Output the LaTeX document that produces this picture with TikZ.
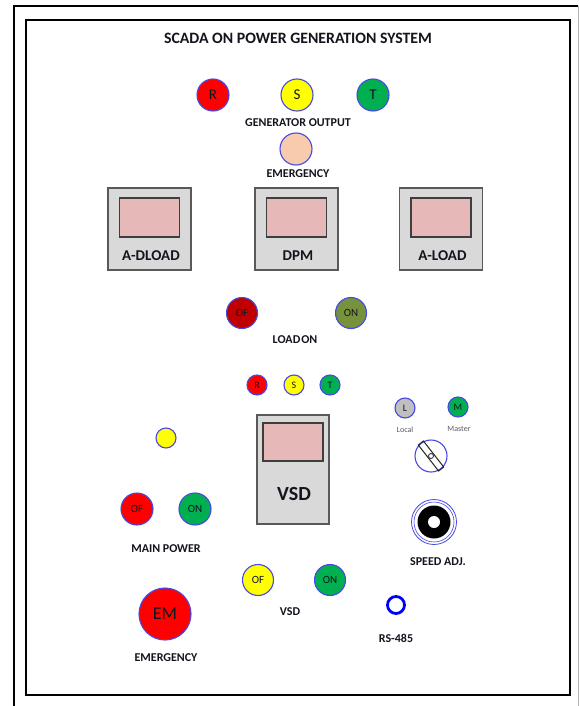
\documentclass[tikz,border=0pt]{standalone}
\usepackage{fontspec}
\setmainfont{Carlito}
\definecolor{ring}{RGB}{72,72,230}
\definecolor{cred}{RGB}{255,0,0}
\definecolor{cyel}{RGB}{255,255,0}
\definecolor{cgrn}{RGB}{0,176,80}
\definecolor{cpeach}{RGB}{248,203,173}
\definecolor{cdred}{RGB}{192,0,0}
\definecolor{colive}{RGB}{118,146,60}
\definecolor{cgray}{RGB}{191,191,191}
\definecolor{boxfill}{RGB}{217,217,217}
\definecolor{boxline}{RGB}{89,89,89}
\definecolor{scr}{RGB}{230,184,183}
\definecolor{txt}{RGB}{20,20,30}
\tikzset{
  lamp/.style={circle, draw=ring, line width=1.1pt, inner sep=0pt, minimum size=#1, text=txt},
  lbl/.style={font=\bfseries\fontsize{12}{12}\selectfont, text=txt, inner sep=0pt},
  meter/.style={draw=boxline, line width=1.3pt, fill=boxfill},
  screen/.style={draw=boxline!70!black, line width=1.2pt, fill=scr},
  boxlbl/.style={font=\bfseries\fontsize{15}{15}\selectfont, text=txt, inner sep=0pt},
  tiny/.style={font=\fontsize{8}{8}\selectfont, text=txt!70, inner sep=0pt}
}
\begin{document}
\begin{tikzpicture}[x=1pt,y=-1pt]
\useasboundingbox (0,0) rectangle (580,706);
\fill[white] (0,0) rectangle (580,706);
% outer frame
\draw[black, line width=1.8pt] (14,712) -- (14,6) -- (578,6);
\draw[gray!60, line width=0.8pt] (578,6) -- (578,712);
% inner frame
\draw[black, line width=1.8pt] (26,20) rectangle (570,695);
\node[font=\bfseries\fontsize{15.8}{15.8}\selectfont, text=txt] (title) at (298,38) {SCADA ON POWER GENERATION SYSTEM};
% generator output
\node[lamp=32, fill=cred, font=\fontsize{15}{15}\selectfont] (gR) at (213,95) {R};
\node[lamp=32, fill=cyel, font=\fontsize{15}{15}\selectfont] (gS) at (297,95) {S};
\node[lamp=32, fill=cgrn, font=\fontsize{15}{15}\selectfont] (gT) at (373,95) {T};
\node[lbl] (genout) at (298,123) {GENERATOR OUTPUT};
\node[lamp=32, fill=cpeach] (emg) at (296,149) {};
\node[lbl] (emglbl) at (298,174) {EMERGENCY};
% meters
\foreach \cx/\name/\txt in {149.5/adl/A-DLOAD, 296.5/dpm/DPM, 441/alo/A-LOAD}{
  \draw[meter] (\cx-41.5,188) rectangle (\cx+41.5,270);
  \draw[screen] (\cx-30,198) rectangle (\cx+30,237);
  \node[boxlbl] (\name) at (\cx+1.5,256) {\txt};
}
% load on
\node[lamp=31, fill=cdred, font=\fontsize{11}{11}\selectfont] (lof) at (242,313) {OF};
\node[lamp=31, fill=colive, font=\fontsize{11}{11}\selectfont] (lon) at (351,313) {ON};
\node[lbl] (loadon) at (295,340) {LOAD\kern1pt ON};
% small RST
\node[lamp=20, fill=cred, font=\fontsize{10}{10}\selectfont] (sR) at (257,385) {R};
\node[lamp=20, fill=cyel, font=\fontsize{10}{10}\selectfont] (sS) at (294,385) {S};
\node[lamp=20, fill=cgrn, font=\fontsize{10}{10}\selectfont] (sT) at (330,385) {T};
% VSD box
\draw[meter] (257,415) rectangle (329,524);
\draw[screen] (263,423) rectangle (323,461);
\node[font=\bfseries\fontsize{20}{20}\selectfont, text=txt, inner sep=0pt] (vsdbox) at (294,494) {VSD};
% main power
\node[lamp=20, fill=cyel] (mpind) at (166,438) {};
\node[lamp=32, fill=cred, font=\fontsize{11}{11}\selectfont] (mof) at (137,509) {OF};
\node[lamp=32, fill=cgrn, font=\fontsize{11}{11}\selectfont] (mon) at (195,509) {ON};
\node[lbl] (mainpow) at (166,549) {MAIN POWER};
% local / master
\node[lamp=20, fill=cgray, font=\fontsize{10}{10}\selectfont] (lL) at (405,408) {L};
\node[lamp=20, fill=cgrn, font=\fontsize{10}{10}\selectfont] (lM) at (458,407) {M};
\node[tiny] (local) at (405,430) {Local};
\node[tiny] (master) at (459,429) {Master};
% selector switch
\node[lamp=32, fill=white] (sel) at (431,456) {};
\node[draw=boxline!40!black, line width=1pt, rectangle, minimum width=33pt, minimum height=6.5pt, inner sep=0pt, rotate=-52] (selbar) at (sel.center) {};
\node[circle, draw=boxline!40!black, line width=0.8pt, fill=white, minimum size=5pt, inner sep=0pt] (selpin) at (sel.center) {};
% speed adj
\node[circle, draw=ring, line width=0.8pt, minimum size=45pt, inner sep=0pt] (spd) at (434,522) {};
\node[circle, draw=ring, line width=0.6pt, minimum size=40pt, inner sep=0pt] (spdin) at (spd.center) {};
\node[circle, fill=black, minimum size=33pt, inner sep=0pt] (knob) at (spd.center) {};
\node[circle, fill=white, minimum size=12pt, inner sep=0pt] (knobhole) at (spd.center) {};
\node[lbl] (spdlbl) at (438,562) {SPEED ADJ.};
% VSD buttons
\node[lamp=31, fill=cyel, font=\fontsize{11}{11}\selectfont] (vof) at (258,580) {OF};
\node[lamp=31, fill=cgrn, font=\fontsize{11}{11}\selectfont] (von) at (330,580) {ON};
\node[lbl] (vsdlbl) at (290,612) {VSD};
% RS-485
\node[circle, draw=blue, line width=2.8pt, fill=white, minimum size=17pt, inner sep=0pt] (rs) at (396,605) {};
\node[lbl] (rslbl) at (396,638) {RS-485};
% emergency
\node[lamp=52, fill=cred, font=\fontsize{18}{18}\selectfont] (em) at (165,614) {EM};
\node[lbl] (emlbl) at (166,658) {EMERGENCY};
\end{tikzpicture}
\end{document}
